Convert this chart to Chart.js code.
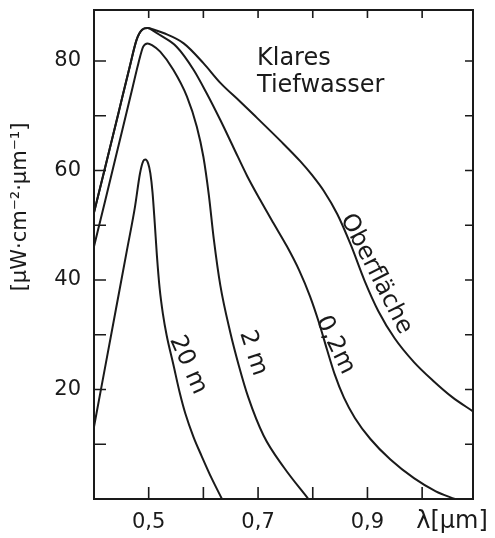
<!DOCTYPE html>
<html>
<head>
<meta charset="utf-8">
<script src="https://cdn.jsdelivr.net/npm/chart.js@4"></script>
<style>
html,body{margin:0;padding:0;background:#fff;}
#wrap{width:495px;height:538px;}
</style>
</head>
<body>
<div id="wrap"><canvas id="c" width="495" height="538"></canvas></div>
<script>
// ---- Data (wavelength in µm, irradiance in µW·cm⁻²·µm⁻¹) ----
const oberX = [0.400,0.420,0.445,0.465,0.478,0.488,0.498,0.510,0.527,0.564,0.600,0.631,0.667,0.698,0.741,0.777,0.800,0.820,0.845,0.870,0.895,0.920,0.950,0.985,1.020,1.055,1.093];
const oberY = [52.3,60.4,70.6,78.8,83.9,85.7,86.0,85.7,85.1,83.2,79.6,76.0,72.6,69.6,65.4,61.7,59.0,56.3,52.0,46.3,39.8,34.3,29.3,25.0,21.6,18.6,16.0];

const m02X = [0.400,0.420,0.445,0.465,0.478,0.488,0.498,0.510,0.521,0.551,0.582,0.606,0.631,0.655,0.680,0.704,0.728,0.753,0.775,0.795,0.812,0.826,0.840,0.857,0.877,0.905,0.942,0.985,1.025,1.060];
const m02Y = [52.3,60.4,70.6,78.8,83.9,85.7,86.0,85.4,84.7,82.6,78.4,74.1,69.2,64.2,59.0,54.6,50.4,46.1,41.8,37.0,32.0,27.3,22.8,18.5,14.8,11.0,7.2,3.8,1.4,0.0];

const m2X = [0.400,0.420,0.445,0.469,0.481,0.490,0.498,0.506,0.521,0.545,0.570,0.588,0.600,0.610,0.619,0.631,0.649,0.665,0.682,0.710,0.747,0.792];
const m2Y = [46.1,54.3,64.6,74.5,79.5,82.6,83.2,82.9,81.7,78.4,73.5,68.0,62.5,55.5,47.5,39.0,30.5,24.3,18.6,11.6,5.8,0.0];

const m20X = [0.400,0.420,0.440,0.460,0.475,0.484,0.490,0.494,0.499,0.503,0.507,0.511,0.515,0.520,0.526,0.533,0.545,0.557,0.567,0.582,0.597,0.615,0.634];
const m20Y = [13.2,23.9,34.6,45.3,53.4,59.4,61.7,62.0,61.3,59.5,56.0,50.5,44.5,38.5,33.8,29.8,24.6,19.3,15.6,11.3,7.8,3.8,0.0];

const seriesNames = ["Oberfläche","0,2m","2 m","20 m"];

const xTickValues = [0.5,0.6,0.7,0.8,0.9,1.0];
const xTickLabels = ["0,5","","0,7","","0,9",""];
const yTickValues = [10,20,30,40,50,60,70,80];
const yTickLabels = ["","20","","40","","60","","80"];

const xMin = 0.4, xMax = 1.093, yMin = 0, yMax = 89.3;

const FONT = "'DejaVu Sans', sans-serif";
const INK = "#1a1a1a";

function pts(xs, ys){ return xs.map((x,i)=>({x:x, y:ys[i]})); }

const decor = {
  id:'decor',
  afterDraw(chart){
    const ctx = chart.ctx, a = chart.chartArea;
    const xs = chart.scales.x, ys = chart.scales.y;
    ctx.save();
    ctx.strokeStyle = INK;
    ctx.lineWidth = 2;
    ctx.strokeRect(a.left, a.top, a.right-a.left, a.bottom-a.top);
    ctx.lineWidth = 1.6;
    ctx.beginPath();
    xTickValues.forEach(v=>{
      const px = xs.getPixelForValue(v);
      ctx.moveTo(px, a.bottom); ctx.lineTo(px, a.bottom-12);
      ctx.moveTo(px, a.top); ctx.lineTo(px, a.top+8);
    });
    yTickValues.forEach(v=>{
      const py = ys.getPixelForValue(v);
      ctx.moveTo(a.left, py); ctx.lineTo(a.left+12, py);
      ctx.moveTo(a.right, py); ctx.lineTo(a.right-8, py);
    });
    ctx.stroke();

    ctx.fillStyle = INK;
    ctx.textBaseline = 'alphabetic';
    ctx.textAlign = 'left';
    ctx.font = "24px " + FONT;
    ctx.fillText("Klares", 257, 65);
    ctx.fillText("Tiefwasser", 257, 92);

    ctx.font = "24px " + FONT;
    ctx.textAlign = 'center';
    ctx.textBaseline = 'middle';
    ctx.fillText("λ[μm]", 452, 522);

    ctx.save();
    ctx.translate(21, 207);
    ctx.rotate(-Math.PI/2);
    ctx.font = "21px " + FONT;
    ctx.fillText("[μW·cm⁻²·μm⁻¹]", 0, 0);
    ctx.restore();

    const lab = [
      [seriesNames[0], 376, 274, 63],
      [seriesNames[1], 335, 345, 64],
      [seriesNames[2], 253, 353, 72],
      [seriesNames[3], 188, 365, 66]
    ];
    ctx.font = "24px " + FONT;
    lab.forEach(l=>{
      ctx.save();
      ctx.translate(l[1], l[2]);
      ctx.rotate(l[3]*Math.PI/180);
      ctx.fillText(l[0], 0, 0);
      ctx.restore();
    });
    ctx.restore();
  }
};

const ds = (data, label)=>({
  label: label,
  data: data,
  borderColor: INK,
  borderWidth: 2,
  pointRadius: 0,
  fill: false,
  cubicInterpolationMode: 'monotone'
});

new Chart(document.getElementById('c'), {
  type: 'line',
  data: {
    datasets: [
      ds(pts(oberX, oberY), seriesNames[0]),
      ds(pts(m02X, m02Y), seriesNames[1]),
      ds(pts(m2X, m2Y), seriesNames[2]),
      ds(pts(m20X, m20Y), seriesNames[3])
    ]
  },
  options: {
    responsive: false,
    animation: false,
    devicePixelRatio: 1,
    layout: {padding: {top: 10, right: 22, left: 0, bottom: 0}},
    plugins: {legend: {display: false}, tooltip: {enabled: false}},
    scales: {
      x: {
        type: 'linear', min: xMin, max: xMax,
        grid: {display: false, drawTicks: false},
        border: {display: false},
        afterBuildTicks: s => { s.ticks = xTickValues.map(v=>({value:v})); },
        afterFit: s => { s.height = 39; s.paddingLeft = 0; s.paddingRight = 0; },
        ticks: {
          color: INK, padding: 11, maxRotation: 0, autoSkip: false,
          font: {family: FONT, size: 21},
          callback: (v) => { const i = xTickValues.findIndex(t=>Math.abs(t-v)<1e-6); return i>=0 ? xTickLabels[i] : ''; }
        }
      },
      y: {
        type: 'linear', min: yMin, max: yMax,
        grid: {display: false, drawTicks: false},
        border: {display: false},
        afterBuildTicks: s => { s.ticks = yTickValues.map(v=>({value:v})); },
        afterFit: s => { s.width = 94; s.paddingTop = 0; s.paddingBottom = 0; },
        ticks: {
          color: INK, padding: 13, autoSkip: false,
          font: {family: FONT, size: 21},
          callback: (v) => { const i = yTickValues.indexOf(v); return i>=0 ? yTickLabels[i] : ''; }
        }
      }
    }
  },
  plugins: [decor]
});
</script>
</body>
</html>
